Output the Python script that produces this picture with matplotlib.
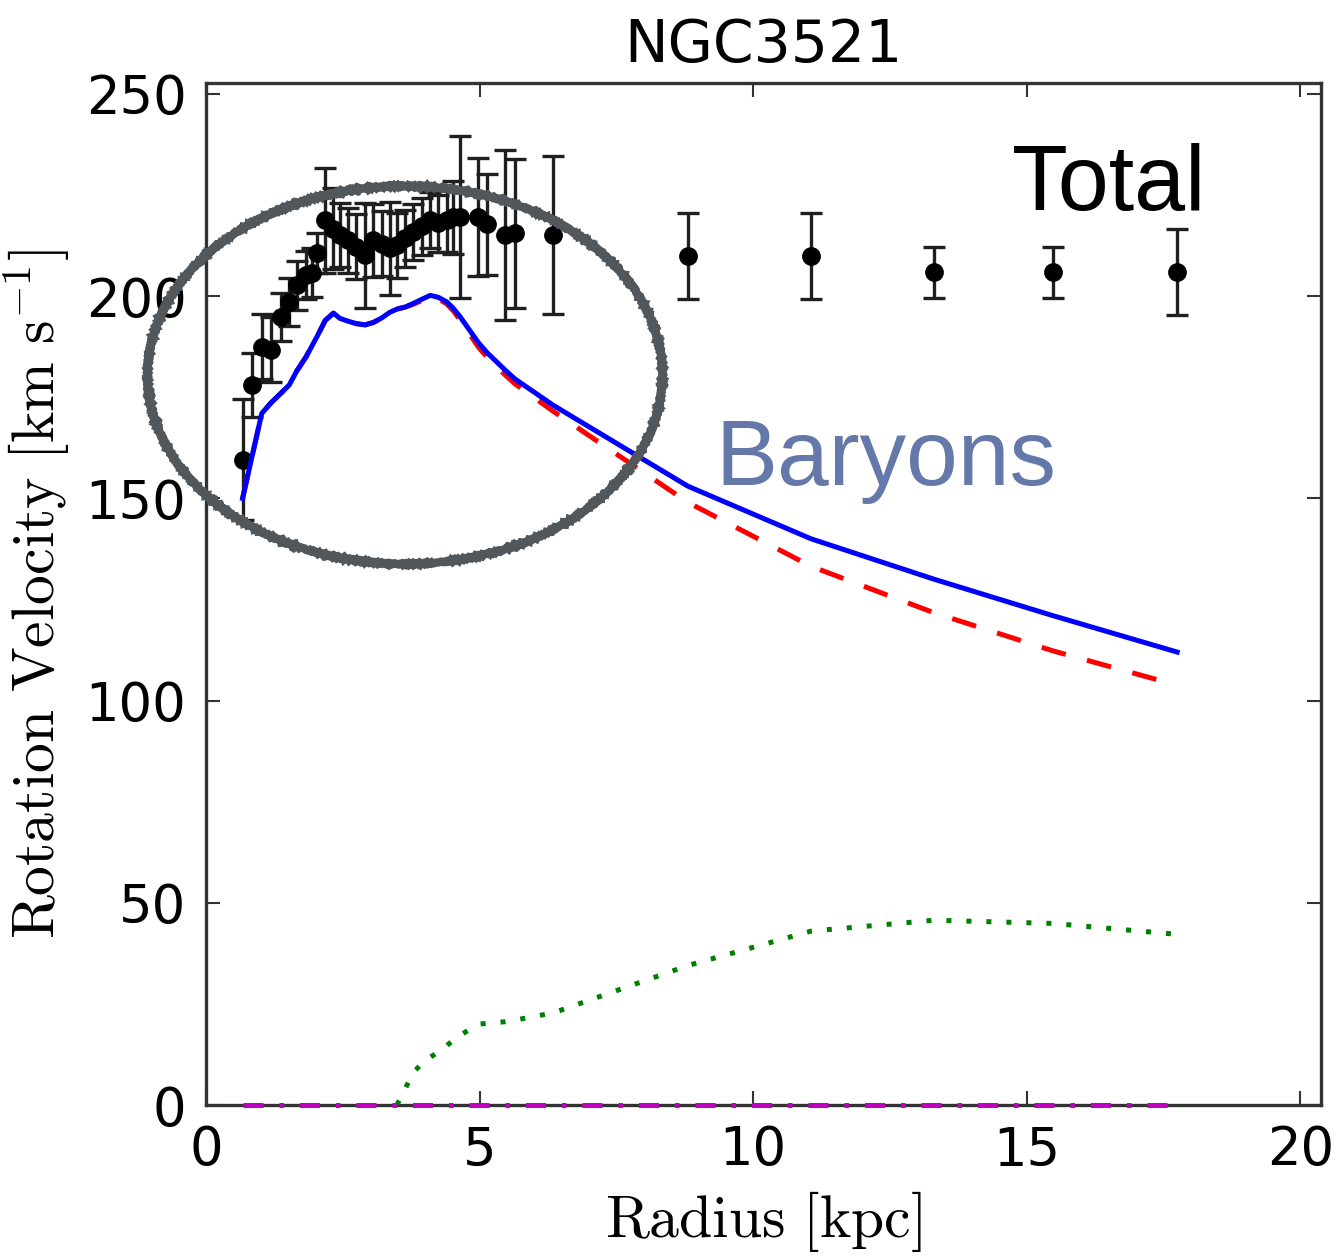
import numpy as np
import matplotlib
matplotlib.use("Agg")
import matplotlib.pyplot as plt
from matplotlib.patches import Ellipse

plt.rcParams['mathtext.fontset'] = 'cm'

# observed rotation curve (kpc, km/s)
radius = [0.67, 0.85, 1.02, 1.18, 1.37, 1.52, 1.66, 1.83, 1.93, 2.03,
          2.18, 2.33, 2.45, 2.60, 2.75, 2.91, 3.06, 3.21, 3.36, 3.49,
          3.64, 3.79, 3.94, 4.10, 4.25, 4.40, 4.52, 4.64, 4.98, 5.14,
          5.47, 5.65, 6.35, 8.81, 11.06, 13.31, 15.48, 17.75]
v_obs = [159.6, 178.0, 187.5, 186.8, 194.9, 198.6, 202.7, 205.2, 205.8, 210.7,
         218.8, 216.7, 215.1, 213.8, 212.2, 210.1, 213.8, 213.0, 211.8, 212.6,
         214.3, 215.9, 217.3, 218.8, 218.0, 218.8, 219.5, 219.6, 219.6, 217.8,
         215.1, 215.5, 215.1, 209.9, 209.9, 205.9, 205.9, 205.9]
v_err = [15.0, 8.0, 8.0, 8.0, 6.0, 6.0, 6.0, 6.0, 6.0, 5.0,
         13.0, 10.0, 8.0, 8.0, 8.0, 13.0, 9.0, 8.0, 11.5, 8.0,
         7.0, 7.0, 7.0, 7.0, 7.0, 8.0, 9.0, 20.0, 14.5, 12.5,
         21.0, 18.5, 19.5, 10.6, 10.6, 6.3, 6.3, 10.6]

# model components on the same radii
v_baryons = [150.0, 160.8, 171.0, 173.5, 176.0, 178.0, 181.5, 185.0, 187.5, 190.0,
             194.0, 195.8, 194.5, 193.8, 193.2, 192.9, 193.5, 194.6, 196.0, 196.8,
             197.3, 198.2, 199.2, 200.2, 199.7, 198.6, 197.0, 195.0, 188.5, 186.0,
             181.7, 179.5, 173.0, 153.0, 140.0, 130.0, 121.0, 112.0]
v_disk = [150.0, 160.8, 171.0, 173.5, 176.0, 178.0, 181.5, 185.0, 187.5, 190.0,
          194.0, 195.8, 194.5, 193.8, 193.2, 192.9, 193.5, 194.6, 196.0, 196.8,
          197.3, 198.0, 198.9, 199.8, 199.3, 198.1, 196.4, 194.2, 187.4, 184.9,
          180.5, 178.3, 171.5, 149.0, 133.2, 121.7, 112.3, 103.8]
v_gas = [np.nan] * 19 + [0.0, 4.0, 8.0, 10.2, 11.8, 13.2, 14.7, 16.0, 17.2, 20.0,
                         20.2, 20.6, 21.0, 22.8, 34.5, 43.0, 45.7, 44.9, 42.2]
v_bulge = [0.0] * len(radius)

fig = plt.figure(figsize=(13.39, 12.58), dpi=100)
ax = fig.add_axes([0.1538, 0.1216, 0.8328, 0.8124])

ax.errorbar(radius, v_obs, yerr=v_err, fmt='o', color='k', ecolor='0.12',
            ms=12.5, capsize=8, elinewidth=2.4, capthick=2.4, zorder=3)
ax.plot(radius, v_disk, color='r', lw=3.6, dashes=(5, 4.4), zorder=4)
ax.plot(radius, v_baryons, color='b', lw=3.6, zorder=5)
ax.plot(radius, v_gas, color='g', lw=3.6, dashes=(1, 3.0), zorder=4)
ax.plot(radius, v_bulge, color='m', lw=3.6, dashes=(4, 3.2, 0.9, 3.2),
        zorder=6, clip_on=False)

ax.set_xlim(0, 20.38)
ax.set_ylim(0, 252.7)
ax.set_xticks([0, 5, 10, 15, 20])
ax.set_yticks([0, 50, 100, 150, 200, 250])
ax.tick_params(direction='in', length=10, width=1.5, top=True, right=True,
               labelsize=38, pad=14, color='0.2')
for s in ax.spines.values():
    s.set_linewidth(2.4)
    s.set_color('0.2')

ax.set_title('NGC3521', fontsize=42, pad=15)
ax.set_xlabel(r'$\mathrm{Radius\ [kpc]}$', fontsize=43, labelpad=9)
ax.set_ylabel(r'$\mathrm{Rotation\ Velocity\ [km\ s^{-1}]}$', fontsize=43, labelpad=10)

W, H = 1339, 1258
fig.text(1012 / W, 1 - 210 / H, 'Total', fontsize=66, family='Liberation Sans',
         color='black', va='baseline', ha='left')
fig.text(715 / W, 1 - 485 / H, 'Baryons', fontsize=67, family='Liberation Sans',
         color='#6479aa', va='baseline', ha='left')

ring = Ellipse((405 / W, 1 - 375 / H), 515 / W, 378 / H, transform=fig.transFigure,
               fill=False, edgecolor='#52575c', lw=6, zorder=10)
ring.set_sketch_params(scale=0.7, length=2, randomness=2)
fig.add_artist(ring)

fig.savefig('out.png', dpi=100)
